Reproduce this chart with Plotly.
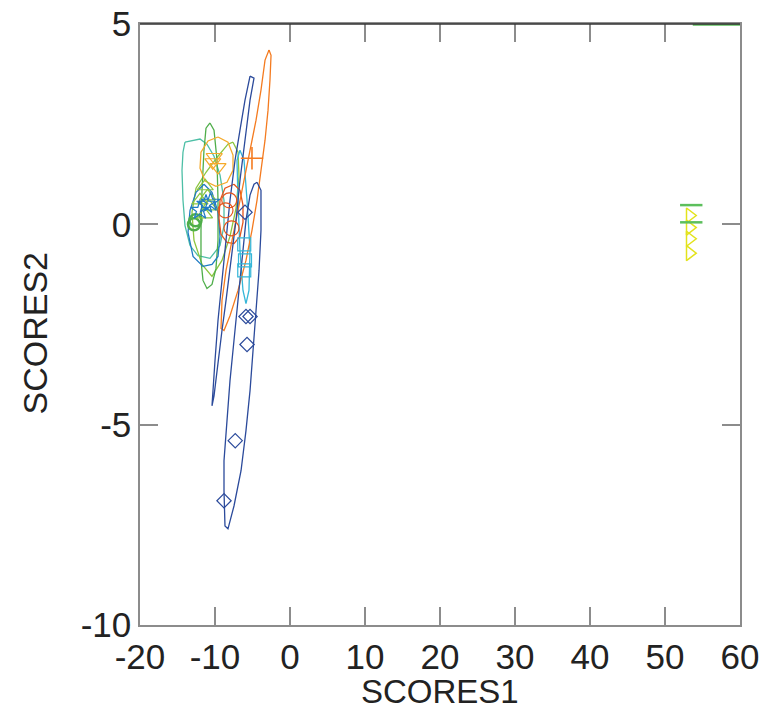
import plotly.graph_objects as go

# ---------------- data ----------------
navy_e1_x = [-5.33, -6.0, -6.67, -7.33, -8.0, -8.53, -9.07, -9.6, -10.0, -10.4, -10.13, -9.6, -9.07, -8.53, -7.87, -7.2, -6.67, -6.0, -5.33, -4.8, -5.33]
navy_e1_y = [3.70, 3.10, 2.35, 1.60, 0.60, -0.40, -1.40, -2.40, -3.40, -4.53, -4.28, -3.40, -2.65, -1.90, -0.90, 0.10, 1.10, 2.10, 3.10, 3.65, 3.70]
navy_e2_x = [-4.4, -3.87, -3.87, -4.13, -4.53, -4.93, -5.33, -5.87, -6.53, -7.47, -8.27, -8.67, -8.8, -8.8, -8.4, -8.0, -7.47, -6.93, -6.4, -5.87, -5.33, -4.8, -4.4]
navy_e2_y = [1.05, 0.85, -0.15, -1.15, -2.15, -3.15, -4.15, -5.15, -6.15, -7.03, -7.6, -7.53, -6.65, -5.9, -4.9, -3.9, -2.9, -1.9, -0.9, 0.1, 0.73, 1.0, 1.05]
navy_pts_x = [-8.8, -7.3, -5.73, -5.87, -5.33, -6.0]
navy_pts_y = [-6.9, -5.4, -3.0, -2.3, -2.3, 0.3]

orange_e_x = [-2.8, -2.53, -2.67, -2.93, -3.33, -3.87, -4.4, -5.07, -5.87, -6.93, -8.0, -8.8, -9.2, -9.07, -8.53, -7.73, -6.93, -6.13, -5.33, -4.53, -3.87, -3.33, -2.8]
orange_e_y = [4.35, 4.22, 3.6, 2.85, 2.1, 1.35, 0.6, -0.15, -0.9, -1.65, -2.28, -2.65, -2.6, -1.9, -1.15, -0.4, 0.35, 1.1, 1.85, 2.6, 3.35, 4.1, 4.35]
orange_pts_x = [-5.07]
orange_pts_y = [1.65]

red_e_x = [-7.47, -6.67, -6.27, -6.27, -6.67, -7.47, -8.4, -9.2, -9.47, -9.33, -8.67, -7.47]
red_e_y = [1.0, 0.85, 0.48, 0.05, -0.3, -0.48, -0.45, -0.25, 0.15, 0.6, 0.9, 1.0]
red_pts_x = [-8.1, -7.8, -8.6]
red_pts_y = [0.6, -0.1, 0.35]

gold_e_x = [-9.6, -8.27, -7.6, -7.6, -8.4, -9.87, -11.33, -12.0, -11.87, -10.93, -9.6]
gold_e_y = [2.18, 2.05, 1.73, 1.35, 1.05, 0.95, 1.08, 1.4, 1.8, 2.08, 2.18]
gold_pts_x = [-10.1, -9.6, -10.3]
gold_pts_y = [1.68, 1.43, 1.55]

teal_e_x = [-14.0, -12.0, -11.07, -10.13, -9.33, -8.8, -8.8, -9.33, -10.67, -12.27, -13.33, -14.0, -14.27, -14.4, -14.27, -14.0]
teal_e_y = [2.05, 2.13, 2.0, 1.7, 1.23, 0.6, -0.03, -0.53, -0.85, -0.78, -0.53, -0.03, 0.6, 1.35, 1.8, 2.05]

green_e_x = [-10.67, -10.13, -9.73, -9.6, -9.6, -9.87, -10.4, -11.07, -11.6, -11.87, -11.87, -11.73, -11.47, -11.2, -10.67]
green_e_y = [2.53, 2.35, 1.6, 0.6, -0.4, -1.1, -1.5, -1.6, -1.4, -0.9, -0.15, 0.85, 1.85, 2.4, 2.53]
green_pts_x = [-12.8, -12.6]
green_pts_y = [0.0, 0.1]

lgreen_e_x = [-7.6, -6.93, -6.8, -7.2, -8.0, -9.07, -10.4, -11.73, -12.8, -13.07, -12.53, -11.2, -9.6, -8.27, -7.6]
lgreen_e_y = [2.05, 1.8, 1.2, 0.4, -0.3, -0.9, -1.3, -1.0, -0.4, 0.3, 0.9, 1.3, 1.7, 2.0, 2.05]
lgreen_pts_x = [-11.3, -11.0, -10.8, -11.4, -12.0]
lgreen_pts_y = [0.95, 0.7, 0.45, 0.25, 0.6]

blue_e_x = [-11.47, -10.4, -9.6, -9.33, -9.6, -10.4, -11.6, -12.93, -13.6, -13.33, -12.53, -11.47]
blue_e_y = [1.0, 0.8, 0.3, -0.3, -0.8, -1.0, -1.05, -0.8, -0.2, 0.35, 0.8, 1.0]
blue_pts_x = [-11.2, -12.0, -10.6]
blue_pts_y = [0.5, 0.35, 0.55]

cyan_e_x = [-6.67, -6.13, -5.73, -5.33, -5.47, -5.87, -6.27, -6.67, -6.93, -7.07, -6.67]
cyan_e_y = [1.85, 1.6, 0.6, -0.65, -1.65, -1.98, -1.65, -0.65, 0.6, 1.6, 1.85]
cyan_pts_x = [-6.1, -6.0, -6.1]
cyan_pts_y = [-0.5, -0.9, -1.15]

yellow_pts_x = [53.3, 53.3, 53.3, 53.3]
yellow_pts_y = [0.22, -0.08, -0.36, -0.72]
green2_pts_x = [53.5, 53.5]
green2_pts_y = [0.48, 0.05]
green2_line_x = [53.7, 60.5]
green2_line_y = [4.98, 4.98]

x_ticks = [-20, -10, 0, 10, 20, 30, 40, 50, 60]
x_ticklabels = ["-20", "-10", "0", "10", "20", "30", "40", "50", "60"]
y_ticks = [-10, -5, 0, 5]
y_ticklabels = ["-10", "-5", "0", "5"]

# ---------------- figure ----------------
NAVY = "#2b4a9b"
ORANGE = "#f47b20"
RED = "#e5561d"
GOLD = "#f5aa2c"
TEAL = "#4dbfa6"
GREEN = "#4fae4a"
LGREEN = "#8cc63f"
BLUE = "#1f7bc4"
CYAN = "#35b6d8"
YELLOW = "#e3e31c"
FONT = "Liberation Sans, Arial"

fig = go.Figure()

def contour(x, y, color, w=1.3):
    fig.add_trace(go.Scatter(x=x, y=y, mode="lines", line=dict(color=color, width=w),
                             hoverinfo="skip", showlegend=False))

def points(x, y, color, symbol, size, lw=1.2):
    fig.add_trace(go.Scatter(x=x, y=y, mode="markers",
                             marker=dict(symbol=symbol, size=size, color=color,
                                         line=dict(color=color, width=lw)),
                             showlegend=False))

contour(teal_e_x, teal_e_y, TEAL)
contour(lgreen_e_x, lgreen_e_y, LGREEN)
contour(green_e_x, green_e_y, GREEN)
contour(blue_e_x, blue_e_y, BLUE)
contour(gold_e_x, gold_e_y, GOLD)
contour(cyan_e_x, cyan_e_y, CYAN)
contour(red_e_x, red_e_y, RED)
contour(orange_e_x, orange_e_y, ORANGE)
contour(navy_e1_x, navy_e1_y, NAVY)
contour(navy_e2_x, navy_e2_y, NAVY)

points(navy_pts_x, navy_pts_y, NAVY, "diamond-open", 11)
points(orange_pts_x, orange_pts_y, ORANGE, "cross-thin-open", 16, 1.6)
points(red_pts_x, red_pts_y, RED, "circle-open", 15)
points(gold_pts_x, gold_pts_y, GOLD, "triangle-down-open", 14)
points(green_pts_x, green_pts_y, GREEN, "circle-open", 12, 2.5)
points(lgreen_pts_x, lgreen_pts_y, LGREEN, "triangle-up-open", 14)
points(blue_pts_x, blue_pts_y, BLUE, "star-open", 14)
points(cyan_pts_x, cyan_pts_y, CYAN, "square-open", 13)
points(yellow_pts_x, yellow_pts_y, YELLOW, "triangle-right-open", 13, 1.5)
points(green2_pts_x, green2_pts_y, "#5cbf5c", "line-ew-open", 16, 2.5)
contour(green2_line_x, green2_line_y, "#5cbf5c", 2)

axis_common = dict(showgrid=False, zeroline=False, showline=True, linecolor="#8c8c8c", linewidth=1.5,
                   mirror="ticks", ticks="inside", ticklen=18, tickcolor="#8c8c8c", tickwidth=1.5,
                   automargin=False,
                   tickfont=dict(family=FONT, size=35, color="#222222"))

fig.update_layout(
    width=767, height=717,
    margin=dict(l=140, r=27, t=24, b=92),
    plot_bgcolor="white", paper_bgcolor="white",
    xaxis=dict(range=[-20, 60], tickmode="array", tickvals=x_ticks, ticktext=x_ticklabels,
               **axis_common),
    yaxis=dict(range=[-10, 5], tickmode="array", tickvals=y_ticks, ticktext=y_ticklabels,
               **axis_common),
    shapes=[dict(type="line", xref="paper", yref="paper", x0=0, x1=1, y0=1, y1=1,
                 line=dict(color="#333333", width=1.5))],
    annotations=[
        dict(text="SCORES1", xref="paper", yref="paper", x=0.5, y=-0.111, yanchor="middle",
             xanchor="center", showarrow=False, font=dict(family=FONT, size=33, color="#222222")),
        dict(text="SCORES2", xref="paper", yref="paper", x=-0.175, y=0.485, textangle=-90,
             xanchor="center", yanchor="middle", showarrow=False,
             font=dict(family=FONT, size=34, color="#222222")),
    ],
)

fig.write_html("out.html")
